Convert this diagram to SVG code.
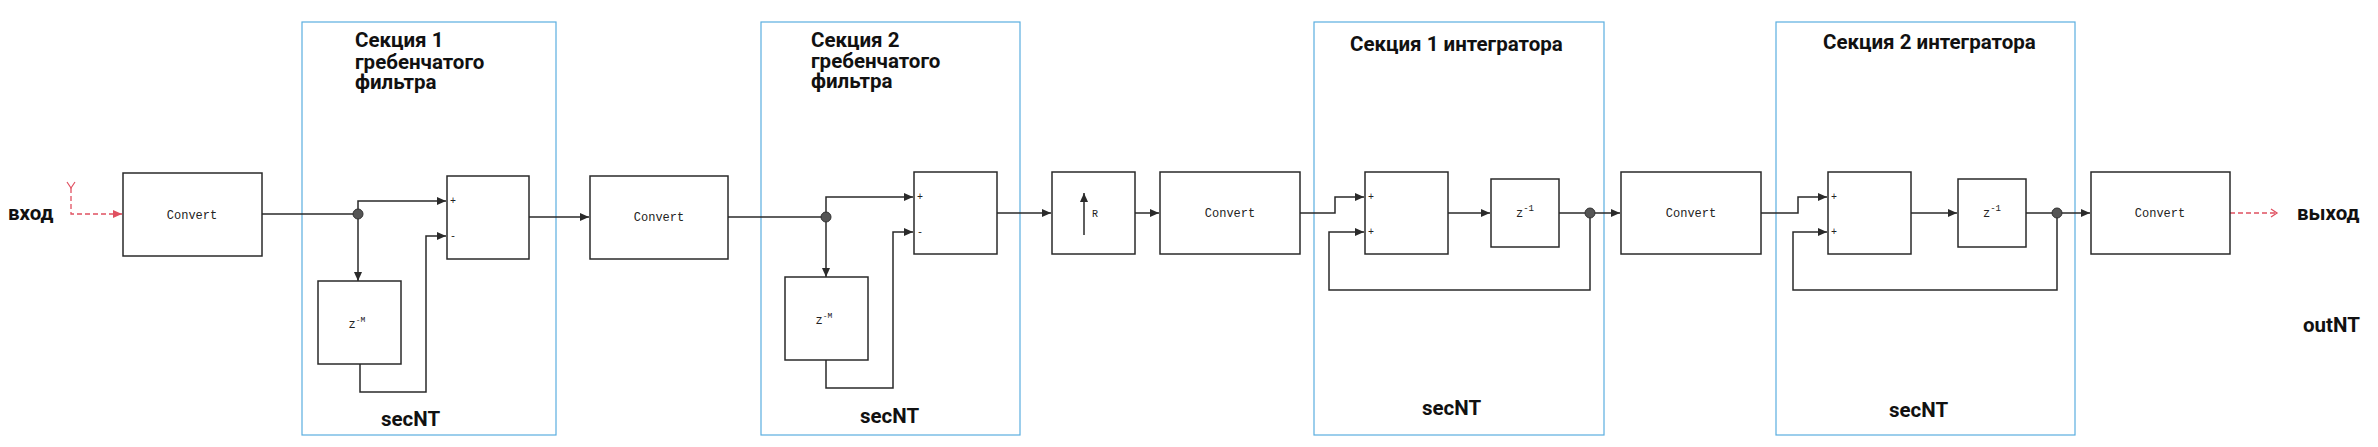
<svg xmlns="http://www.w3.org/2000/svg" width="2378" height="447" viewBox="0 0 2378 447">
<style>
.sec{fill:none;stroke:#5aaee0;stroke-width:1.2}
.blk{fill:#fff;stroke:#2a2a2a;stroke-width:1.5}
.w{fill:none;stroke:#2a2a2a;stroke-width:1.5}
.red{fill:none;stroke:#e05060;stroke-width:1.3;stroke-dasharray:5,3}
.mono{font-family:"Liberation Mono","DejaVu Sans Mono",monospace;font-size:12px;fill:#222;text-anchor:middle}
.port{font-family:"Liberation Mono",monospace;font-size:10px;fill:#222}
.t{font-family:Roboto,"Liberation Sans",sans-serif;font-weight:bold;font-size:20.5px;fill:#111}
.dot{fill:#555;stroke:#333;stroke-width:1}
</style>
<defs>
<marker id="a" markerWidth="10" markerHeight="8" refX="9" refY="4" orient="auto" markerUnits="userSpaceOnUse"><path d="M0,0 L9,4 L0,8 z" fill="#2a2a2a"/></marker>
<marker id="ar" markerWidth="10" markerHeight="8" refX="9" refY="4" orient="auto" markerUnits="userSpaceOnUse"><path d="M0,0 L9,4 L0,8 z" fill="#e05060"/></marker>
<marker id="ao" markerWidth="10" markerHeight="10" refX="8" refY="5" orient="auto" markerUnits="userSpaceOnUse"><path d="M2,1 L8,5 L2,9" fill="none" stroke="#e05060" stroke-width="1.3"/></marker>
</defs>

<g id="sections">
<rect id="sec1" class="sec" x="302" y="22" width="254" height="413"/>
<rect id="sec2" class="sec" x="761" y="22" width="259" height="413"/>
<rect id="sec3" class="sec" x="1314" y="22" width="290" height="413"/>
<rect id="sec4" class="sec" x="1776" y="22" width="299" height="413"/>
<text class="t" x="355" y="47">Секция 1</text>
<text class="t" x="355" y="69">гребенчатого</text>
<text class="t" x="355" y="89">фильтра</text>
<text class="t" x="811" y="47">Секция 2</text>
<text class="t" x="811" y="68">гребенчатого</text>
<text class="t" x="811" y="88">фильтра</text>
<text class="t" x="1350" y="51">Секция 1 интегратора</text>
<text class="t" x="1823" y="49">Секция 2 интегратора</text>
<text class="t" x="381" y="426">secNT</text>
<text class="t" x="860" y="423">secNT</text>
<text class="t" x="1422" y="415">secNT</text>
<text class="t" x="1889" y="417">secNT</text>
</g>

<g id="io">
<text class="t" x="8" y="220">вход</text>
<text class="t" x="2297" y="220">выход</text>
<text class="t" x="2303" y="332">outNT</text>
</g>

<g id="connectors">
<path class="red" d="M71,188 V214 H122" marker-end="url(#ar)"/>
<path d="M67,182 L71,188 L75,182" fill="none" stroke="#e05060" stroke-width="1.2"/>
<path class="w" d="M262,214 H358"/>
<path class="w" d="M358,214 V201 H446" marker-end="url(#a)"/>
<path class="w" d="M358,214 V281" marker-end="url(#a)"/>
<path class="w" d="M360,364 V392 H426 V236 H446" marker-end="url(#a)"/>
<path class="w" d="M529,217 H589" marker-end="url(#a)"/>
<path class="w" d="M728,217 H826"/>
<path class="w" d="M826,217 V197 H913" marker-end="url(#a)"/>
<path class="w" d="M826,217 V277" marker-end="url(#a)"/>
<path class="w" d="M826,360 V388 H893 V232 H913" marker-end="url(#a)"/>
<path class="w" d="M997,213 H1051" marker-end="url(#a)"/>
<path class="w" d="M1135,213 H1159" marker-end="url(#a)"/>
<path class="w" d="M1300,213 H1335 V197 H1364" marker-end="url(#a)"/>
<path class="w" d="M1590,213 V290 H1329 V232 H1364" marker-end="url(#a)"/>
<path class="w" d="M1448,213 H1490" marker-end="url(#a)"/>
<path class="w" d="M1559,213 H1590"/>
<path class="w" d="M1590,213 H1620" marker-end="url(#a)"/>
<path class="w" d="M1761,213 H1798 V197 H1827" marker-end="url(#a)"/>
<path class="w" d="M2057,213 V290 H1793 V232 H1827" marker-end="url(#a)"/>
<path class="w" d="M1911,213 H1957" marker-end="url(#a)"/>
<path class="w" d="M2026,213 H2057"/>
<path class="w" d="M2057,213 H2090" marker-end="url(#a)"/>
<path class="red" d="M2230,213 H2277" marker-end="url(#ao)"/>
<circle class="dot" cx="358" cy="214" r="5"/>
<circle class="dot" cx="826" cy="217" r="5"/>
<circle class="dot" cx="1590" cy="213" r="5"/>
<circle class="dot" cx="2057" cy="213" r="5"/>
</g>

<g id="convert1"><rect class="blk" x="123" y="173" width="139" height="83"/><text class="mono" x="192" y="219">Convert</text></g>
<g id="sum1"><rect class="blk" x="447" y="176" width="82" height="83"/><text class="port" x="450" y="204">+</text><text class="port" x="450" y="239">-</text></g>
<g id="delayM1"><rect class="blk" x="318" y="281" width="83" height="83"/><text class="mono" x="357" y="328">z<tspan font-size="8" dy="-6">-M</tspan></text></g>
<g id="convert2"><rect class="blk" x="590" y="176" width="138" height="83"/><text class="mono" x="659" y="221">Convert</text></g>
<g id="sum2"><rect class="blk" x="914" y="172" width="83" height="82"/><text class="port" x="917" y="200">+</text><text class="port" x="917" y="235">-</text></g>
<g id="delayM2"><rect class="blk" x="785" y="277" width="83" height="83"/><text class="mono" x="824" y="324">z<tspan font-size="8" dy="-6">-M</tspan></text></g>
<g id="upsample"><rect class="blk" x="1052" y="172" width="83" height="82"/><path class="w" d="M1084,235 V193" marker-end="url(#a)"/><text class="port" x="1092" y="217" font-size="12">R</text></g>
<g id="convert3"><rect class="blk" x="1160" y="172" width="140" height="82"/><text class="mono" x="1230" y="217">Convert</text></g>
<g id="isum1"><rect class="blk" x="1365" y="172" width="83" height="82"/><text class="port" x="1368" y="200">+</text><text class="port" x="1368" y="235">+</text></g>
<g id="delay1"><rect class="blk" x="1491" y="179" width="68" height="68"/><text class="mono" x="1525" y="217">z<tspan font-size="9" dy="-6">-1</tspan></text></g>
<g id="convert4"><rect class="blk" x="1621" y="172" width="140" height="82"/><text class="mono" x="1691" y="217">Convert</text></g>
<g id="isum2"><rect class="blk" x="1828" y="172" width="83" height="82"/><text class="port" x="1831" y="200">+</text><text class="port" x="1831" y="235">+</text></g>
<g id="delay2"><rect class="blk" x="1958" y="179" width="68" height="68"/><text class="mono" x="1992" y="217">z<tspan font-size="9" dy="-6">-1</tspan></text></g>
<g id="convert5"><rect class="blk" x="2091" y="172" width="139" height="82"/><text class="mono" x="2160" y="217">Convert</text></g>
</svg>
